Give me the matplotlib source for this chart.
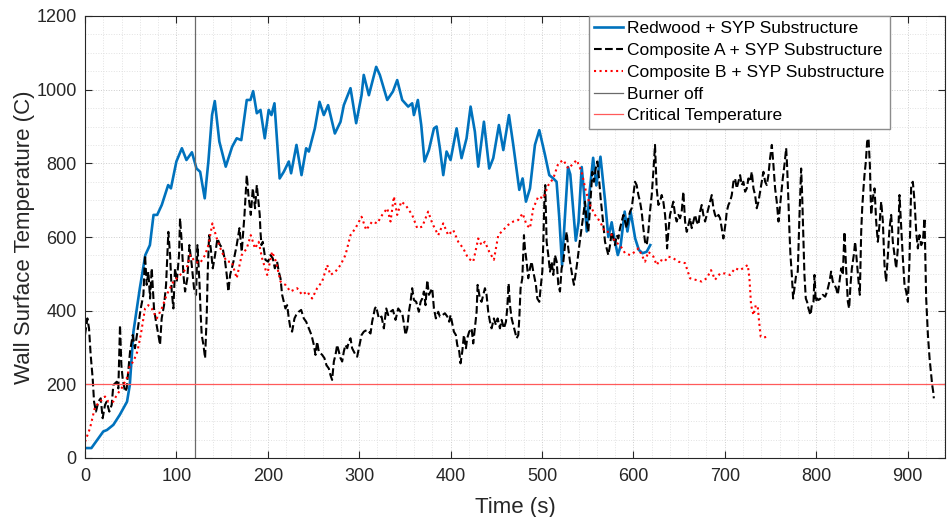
import matplotlib
matplotlib.use('Agg')
import matplotlib.pyplot as plt
from matplotlib.ticker import MultipleLocator

plt.rcParams['font.family'] = ['Liberation Sans', 'DejaVu Sans']

# Redwood + SYP substructure (time s, temperature C)
redwood_t = [0, 7, 20, 24, 31, 38, 46, 49, 53, 60, 66, 71, 75, 79, 84, 91, 94, 100, 106, 111,
             117, 122, 126, 131, 135, 139, 142, 147, 154, 161, 166, 171, 177, 181, 184, 188, 192, 196.7, 201, 204,
             207.3, 213, 217.5, 223, 225.5, 231.4, 236.9, 242, 244.9, 251.5, 256.6, 261.3, 266, 273.4, 279.6, 283.2, 290.5, 296.7, 302.6, 305,
             310.6, 318.6, 322.6, 330.7, 336.9, 341.6, 347.1, 353.6, 358, 359.9, 364.2, 367.9, 371.5, 376.3, 381.8, 384.7, 388.3, 392, 395.6, 400,
             406.6, 412, 417.5, 421.9, 426.6, 430.3, 436.5, 442.3, 446.7, 452.9, 457.7, 463.9, 468.6, 475.2, 478.8, 482.5, 486.9, 492.3, 497.1, 503.3,
             508, 512.4, 516, 519, 522, 525, 528.5, 531, 534, 537, 540, 543.5, 546, 549, 552, 556, 559.5, 564, 569, 572.6,
             576.3, 579.2, 583, 586, 590.5, 593.5, 597, 602, 606, 610, 614.6, 618.5]
redwood_T = [27, 27, 72, 76, 90, 117, 153, 198, 343, 461, 551, 578, 660, 660, 687, 741, 732, 805, 841, 809,
             830, 786, 777, 705, 805, 931, 969, 859, 791, 845, 868, 863, 972, 972, 996, 936, 945, 868, 945, 931,
             963, 759, 777, 805, 773, 850, 768, 841, 832, 895, 967, 931, 958, 881, 913, 958, 1004, 909, 985, 1040,
             985, 1062, 1040, 972, 995, 1026, 972, 954, 963, 931, 972, 904, 805, 836, 895, 900, 841, 768, 832, 809,
             895, 814, 868, 954, 886, 791, 913, 786, 814, 904, 836, 931, 850, 728, 759, 696, 732, 850, 890, 823,
             768, 759, 750, 650, 524, 650, 790, 770, 680, 590, 640, 790, 720, 615, 720, 815, 740, 818, 700, 600,
             640, 596, 551, 575, 669, 615, 669, 596, 565, 556, 560, 578]

# Composite A + SYP substructure
compA_t = [0, 2.6, 4.4, 6.2, 8.4, 9.9, 12, 14.6, 17.2, 19.3, 21.9, 23.7, 26.6, 29.2, 31, 34.7, 36.5, 38.3, 39.8, 41.2,
           43.8, 45.6, 49.3, 52.2, 54.7, 58.4, 61, 63.9, 65.7, 67.5, 69.3, 71.2, 73, 75.5, 77.7, 80.3, 82.1, 83.9, 86.5, 88.7,
           91.2, 93.1, 94.9, 96.7, 98.5, 100.4, 102.9, 104, 105.8, 107.7, 109.5, 112, 114.2, 116.8, 119.3, 121.5, 123, 125.2, 126.6, 127.7,
           129.6, 131.4, 133.2, 134.3, 135.8, 137.6, 139.8, 142.3, 144.9, 147.8, 150.7, 153.3, 155.1, 156.9, 158.8, 162.4, 166, 169, 171.5, 174.5,
           177, 178.8, 181.4, 183.6, 186.1, 188,
           191.2, 192, 193.1, 194.5, 197.4, 200.4, 202.9, 205.5, 207.7, 210.2, 212, 213.9, 215.7, 217.5, 219.3, 221.2, 223, 224.8, 226.6, 229.2,
           231, 233.9, 236.5, 239.4, 242, 244.9, 247.8, 250.4, 252.2, 254, 255.8, 259.5, 262, 264.2, 266.8, 268.6, 270.4, 272.3, 274.1, 275.9,
           277.7, 279.6, 281.4, 283.2, 285, 286.9, 288.7, 290.5, 292.3, 294.2, 296, 297.8, 300.4, 302.6, 305.1, 308.8, 312.4, 314.2, 317.2, 318.6,
           321.5, 324.5, 327, 329.6, 331.8, 334.3, 336.9, 339.8, 342.7, 345.3, 347.1, 348.9, 350.7, 352.6, 354.4, 356.2, 358, 359.9, 362.4, 365.3,
           367.2, 369, 370.8, 372.6, 374.5, 376.3, 378.1, 379.9,
           381.8, 383.9, 386.5, 388.3, 391.2, 393.8, 396.4, 398.5, 400, 402.2, 403.6, 405.8, 407.3, 409.5, 410.9, 412.8, 414.6, 416.8, 418.2, 420.4,
           423, 424.8, 426.6, 428.5, 429.6, 432.1, 433.9, 435.8, 437.6, 439.4, 441.2, 443.1, 444.9, 447.4, 449.6, 451.5, 454, 455.8, 458.4, 460.6,
           462, 463.5, 465, 466.8, 468.6, 470.4, 472.3, 474.1, 475.2, 476.6, 478.5, 480.3, 481.4, 483.2, 485, 486.9, 488.7, 490.5, 493.4, 494.9,
           497.1, 498.5, 500.4, 501.5, 502.6, 503.6, 505.1, 506.9, 508.8, 510.6, 512.4, 514.2, 516.1, 517.9, 519.7, 521.5, 523.4, 525.2, 527, 528.8,
           530.7, 533.6, 535, 537.2, 538.7, 540.9, 543.4, 545.3, 547.1, 548.9, 550.7, 552.6, 555.1, 556.9, 558.8, 560.6, 562.4, 564.2, 566.1, 567.9,
           569, 570.8, 572.6, 574.5, 576.3, 578.1, 579.9, 581.8, 583.6, 585.4, 587.2, 589.1, 590.9, 592.7, 594.5, 596.4, 598.2, 600, 601.8, 603.6,
           605.5, 607.3, 609.1, 610.9, 612.8, 614.6, 616.4, 618.2, 620.1, 621.9, 623, 623.7, 624.8, 625.5, 627.4, 629.2, 631, 632.8, 634.7, 635.8,
           636.9, 638.3, 640.1, 642, 643.8, 645.6, 647.4, 649.3, 651.1, 652.9, 654.7, 656.6, 658.4, 660.2, 662, 663.9, 665.7, 667.5, 669.3, 671.2,
           673, 674.8, 676.6, 678.5, 680.3, 682.1, 683.9, 685.8, 687.6, 689.4, 691.2, 693.1, 694.9, 696.7, 698.5, 699.6, 701.1, 702.2, 704, 705.8,
           707.7, 709.5, 711.3, 713.1, 715, 716.8, 718.6, 720.4, 722.3, 724.1, 725.9, 727.7, 729.6, 731.4, 733.2, 735, 736.9, 738.7, 740.5, 742.3,
           744.2, 746, 747.8, 749.6, 751.5, 753.3, 755.1, 756.9, 758.8, 760.6,
           763.5, 765.3, 767.2, 768.2, 769.7, 770.8, 771.9, 773.4, 774.8, 776.3, 778.1, 779.9, 781.8, 783.6, 784.7, 785.8, 787.2, 788.7, 790.1, 791.6,
           793.8, 795.3, 797.1, 798.2, 799.6, 801.1, 802.6, 804.7, 807.3, 809.9, 812, 814.6, 816.4, 818.2, 820.1, 821.9, 823.7, 825.5, 827.4, 829.2,
           831, 832.8, 834.7, 836.1, 837.6, 839.1, 841.2, 842.7, 844.5, 846.4, 847.8, 849.3, 850.4, 851.8, 852.9, 854.4, 855.8, 857.3, 858.8, 860.2,
           862, 863.9, 865.7, 867.5, 869.3, 871.2, 873, 874.8, 876.6, 878.5, 880.3, 882.1, 883.9, 885.8, 887.6, 889.4, 891.2, 893.1, 894.9, 896.7,
           898.5, 900.4, 902.2, 904, 905.8, 907.7, 909.5, 911.3, 913.1, 915, 916.8, 918.6, 919.3, 920.4, 922.3, 924.1, 925.9, 927, 928.1, 928.8]
compA_T = [334, 379, 352, 280, 216, 153, 126, 153, 162, 108, 144, 153, 126, 144, 198, 207, 189, 361, 252, 216,
           180, 189, 289, 334, 298, 361, 406, 443, 551, 470, 506, 433, 515, 406, 370, 334, 307, 379, 415, 470,
           614, 551, 452, 406, 515, 479, 551, 651, 587, 497, 452, 488, 578, 524, 461, 443, 578, 479, 388, 334,
           307, 271, 388, 506, 605, 569, 515, 551, 596, 578, 569, 533, 497, 452, 497, 533, 578, 624, 560, 660,
           768, 714, 660, 732, 678, 741,
           660, 614, 578, 587, 538, 533, 551, 542, 515, 533, 506, 488, 443, 424, 406, 415, 379, 352, 343, 379,
           388, 397, 402, 379, 370, 352, 334, 307, 280, 316, 289, 280, 271, 252, 243, 225, 212, 262, 280, 307,
           289, 271, 262, 289, 307, 298, 316, 325, 298, 289, 280, 275, 307, 334, 343, 348, 338, 370, 406, 411,
           379, 384, 352, 406, 388, 397, 402, 375, 406, 397, 393, 366, 334, 352, 397, 424, 461, 429, 424, 397,
           424, 433, 452, 415, 483, 443, 452, 461,
           406, 379, 397, 384, 388, 393, 384, 370, 388, 361, 343, 334, 307, 289, 257, 289, 334, 298, 325, 343,
           352, 311, 352, 397, 470, 433, 424, 443, 461, 443, 397, 370, 352, 379, 361, 379, 352, 375, 352, 370,
           406, 474, 415, 379, 361, 343, 325, 334, 379, 461, 488, 605, 569, 533, 488, 515, 533, 506, 470, 433,
           424, 461, 506, 587, 696, 741, 587, 551, 506, 533, 497, 551, 533, 470, 452, 515, 533, 578, 614, 569,
           533, 488, 470, 506, 533, 578, 624, 660, 696, 642, 614, 678, 777, 750, 786, 805, 759, 705, 660, 614,
           587, 569, 551, 578, 614, 596, 578, 605, 596, 624, 642, 660, 642, 624, 651, 669, 678, 714, 750, 741,
           714, 696, 669, 624, 587, 578, 614, 669, 714, 777, 823, 850, 777, 732, 687, 696, 714, 696, 660, 624,
           569, 614, 660, 678, 696, 660, 642, 660, 651, 669, 723, 642, 614, 633, 651, 624, 642, 660, 642, 633,
           669, 687, 660, 642, 660, 678, 696, 714, 678, 660, 651, 660, 651, 624, 596, 614, 642, 669, 687, 696,
           714, 750, 759, 732, 750, 768, 741, 750, 723, 732, 759, 750, 777, 732, 714, 678, 696, 723, 750, 777,
           750, 741, 768, 814, 850, 795, 732, 696, 642, 687,
           759, 795, 841, 795, 696, 614, 551, 497, 433, 461, 497, 506, 660, 786, 714, 614, 497, 433, 424, 406,
           388, 415, 424, 497, 424, 433, 429, 433, 443, 438, 452, 479, 506, 479, 470, 461, 443, 479, 515, 497,
           614, 515, 424, 406, 470, 515, 551, 587, 533, 479, 443, 614, 678, 732, 768, 805, 859, 868, 795, 660,
           705, 732, 642, 587, 633, 696, 642, 524, 479, 551, 624, 660, 587, 551, 515, 569, 714, 624, 542, 470,
           452, 424, 542, 741, 750, 696, 614, 569, 605, 578, 587, 651, 569, 433, 334, 271, 225, 198, 180, 162]

# Composite B + SYP substructure
compB_t = [0, 5.5, 11, 16.4, 21.9, 25.5, 31, 34.7, 40, 45.6, 49.3, 53, 57.3, 61, 65.7, 69.3, 73, 78.5, 84, 89.4,
           96.7, 104, 111.3, 115, 120.4, 125.9, 131.4, 135, 139.4, 144.2, 149.6, 155, 160.6, 166, 171.5, 177, 181.4, 186,
           190, 193.8, 199.3, 204.7, 209, 213.9, 219.3, 224.8, 232.1, 237.6, 243, 248.5, 254, 259.5, 265, 268.6, 274, 279.6, 285, 290.5,
           296, 302.6, 307.7, 314.2, 319.7, 325.2, 330.7, 334.3, 338, 341.6, 346, 350.7, 358, 363.5, 369, 375.5, 380,
           386.5, 392, 397.4, 402.9, 408.4, 413.9, 419.3, 424.8, 430.3, 433.9, 437.6, 442.3, 447.4, 452.2, 457.7, 463.1, 468.6, 474, 478.8, 483.2,
           486.9, 490.5, 496, 501.5, 507, 512.4, 517.9, 523.4, 528.8, 532.5, 538, 543.4, 548.2, 552.6, 558, 563.5, 569,
           574.5, 580, 585.4, 590.9, 596.4, 601.8, 605.5, 609.1, 612.8, 616.4, 621.9, 625.5, 629.2, 634, 638.3, 643.8, 649.3, 656.6, 662, 667.5,
           674.8, 680.3, 685, 689.4, 694.9, 700.4, 705.8, 711.3, 716.8, 722.3, 725.2, 727, 728.8, 731.4, 734, 736.1, 737.6, 739.4, 742.3, 746]
compB_T = [44, 81, 139, 153, 167, 153, 153, 171, 189, 216, 252, 262, 289, 334, 406, 415, 406, 379, 406, 443,
           479, 497, 515, 551, 533, 529, 551, 578, 637, 596, 560, 533, 533, 488, 551, 569, 605, 569,
           587, 542, 497, 560, 533, 479, 470, 452, 461, 443, 452, 433, 461, 479, 524, 497, 506, 524, 551, 605,
           624, 655, 619, 642, 637, 660, 678, 642, 710, 660, 696, 687, 660, 624, 628, 669, 637,
           605, 637, 605, 619, 587, 569, 542, 533, 596, 578, 587, 560, 538, 605, 619, 633, 642, 646, 664, 633,
           624, 678, 710, 705, 741, 759, 800, 809, 786, 795, 809, 777, 723, 687, 660, 642, 614,
           614, 587, 578, 556, 551, 560, 569, 551, 533, 560, 547, 524, 538, 533, 547, 542, 533, 529, 488, 484,
           479, 488, 510, 484, 501, 501, 497, 515, 510, 519, 524, 488, 415, 388, 415, 411, 370, 329, 327, 329]

burner_off = 120
critical_temp = 200

fig = plt.figure(figsize=(9.47, 5.17), dpi=100)
ax = fig.add_axes([85 / 947, 1 - 458 / 517, (945 - 85) / 947, (458 - 16) / 517])

ax.plot(redwood_t, redwood_T, color='#0072BD', lw=1.9, label='Redwood + SYP Substructure')
ax.plot(compA_t, compA_T, 'k--', lw=1.5, label='Composite A + SYP Substructure')
ax.plot(compB_t, compB_T, 'r:', lw=1.5, label='Composite B + SYP Substructure')
ax.axvline(burner_off, color='#6a6a6a', lw=0.9, label='Burner off')
ax.axhline(critical_temp, color='#ff5a5a', lw=0.9, label='Critical Temperature')

ax.set_xlim(0, 941)
ax.set_ylim(0, 1200)
ax.xaxis.set_major_locator(MultipleLocator(100))
ax.xaxis.set_minor_locator(MultipleLocator(20))
ax.yaxis.set_major_locator(MultipleLocator(200))
ax.yaxis.set_minor_locator(MultipleLocator(50))
ax.grid(which='major', ls=':', color='#cdcdcd', lw=0.7)
ax.grid(which='minor', ls=':', color='#e2e2e2', lw=0.7)
ax.set_axisbelow(True)

ax.tick_params(which='major', direction='in', top=True, right=True, length=5, width=0.8,
               labelsize=13, colors='#262626')
ax.tick_params(axis='x', which='major', pad=7)
ax.tick_params(axis='y', which='major', pad=6)
ax.tick_params(which='minor', length=0)
for s in ax.spines.values():
    s.set_color('#262626')
    s.set_linewidth(0.8)

ax.set_xlabel('Time (s)', fontsize=16, color='#262626', labelpad=9)
ax.set_ylabel('Wall Surface Temperature (C)', fontsize=16, color='#262626', labelpad=1)

leg = ax.legend(loc='upper right', bbox_to_anchor=(0.936, 1.0), borderaxespad=0, fancybox=False,
                edgecolor='#8c8c8c', framealpha=1, fontsize=12.5, handlelength=1.65,
                handletextpad=0.25, labelspacing=0.38, borderpad=0.3)
leg.get_frame().set_linewidth(1.0)

fig.savefig('out.png', dpi=100)
